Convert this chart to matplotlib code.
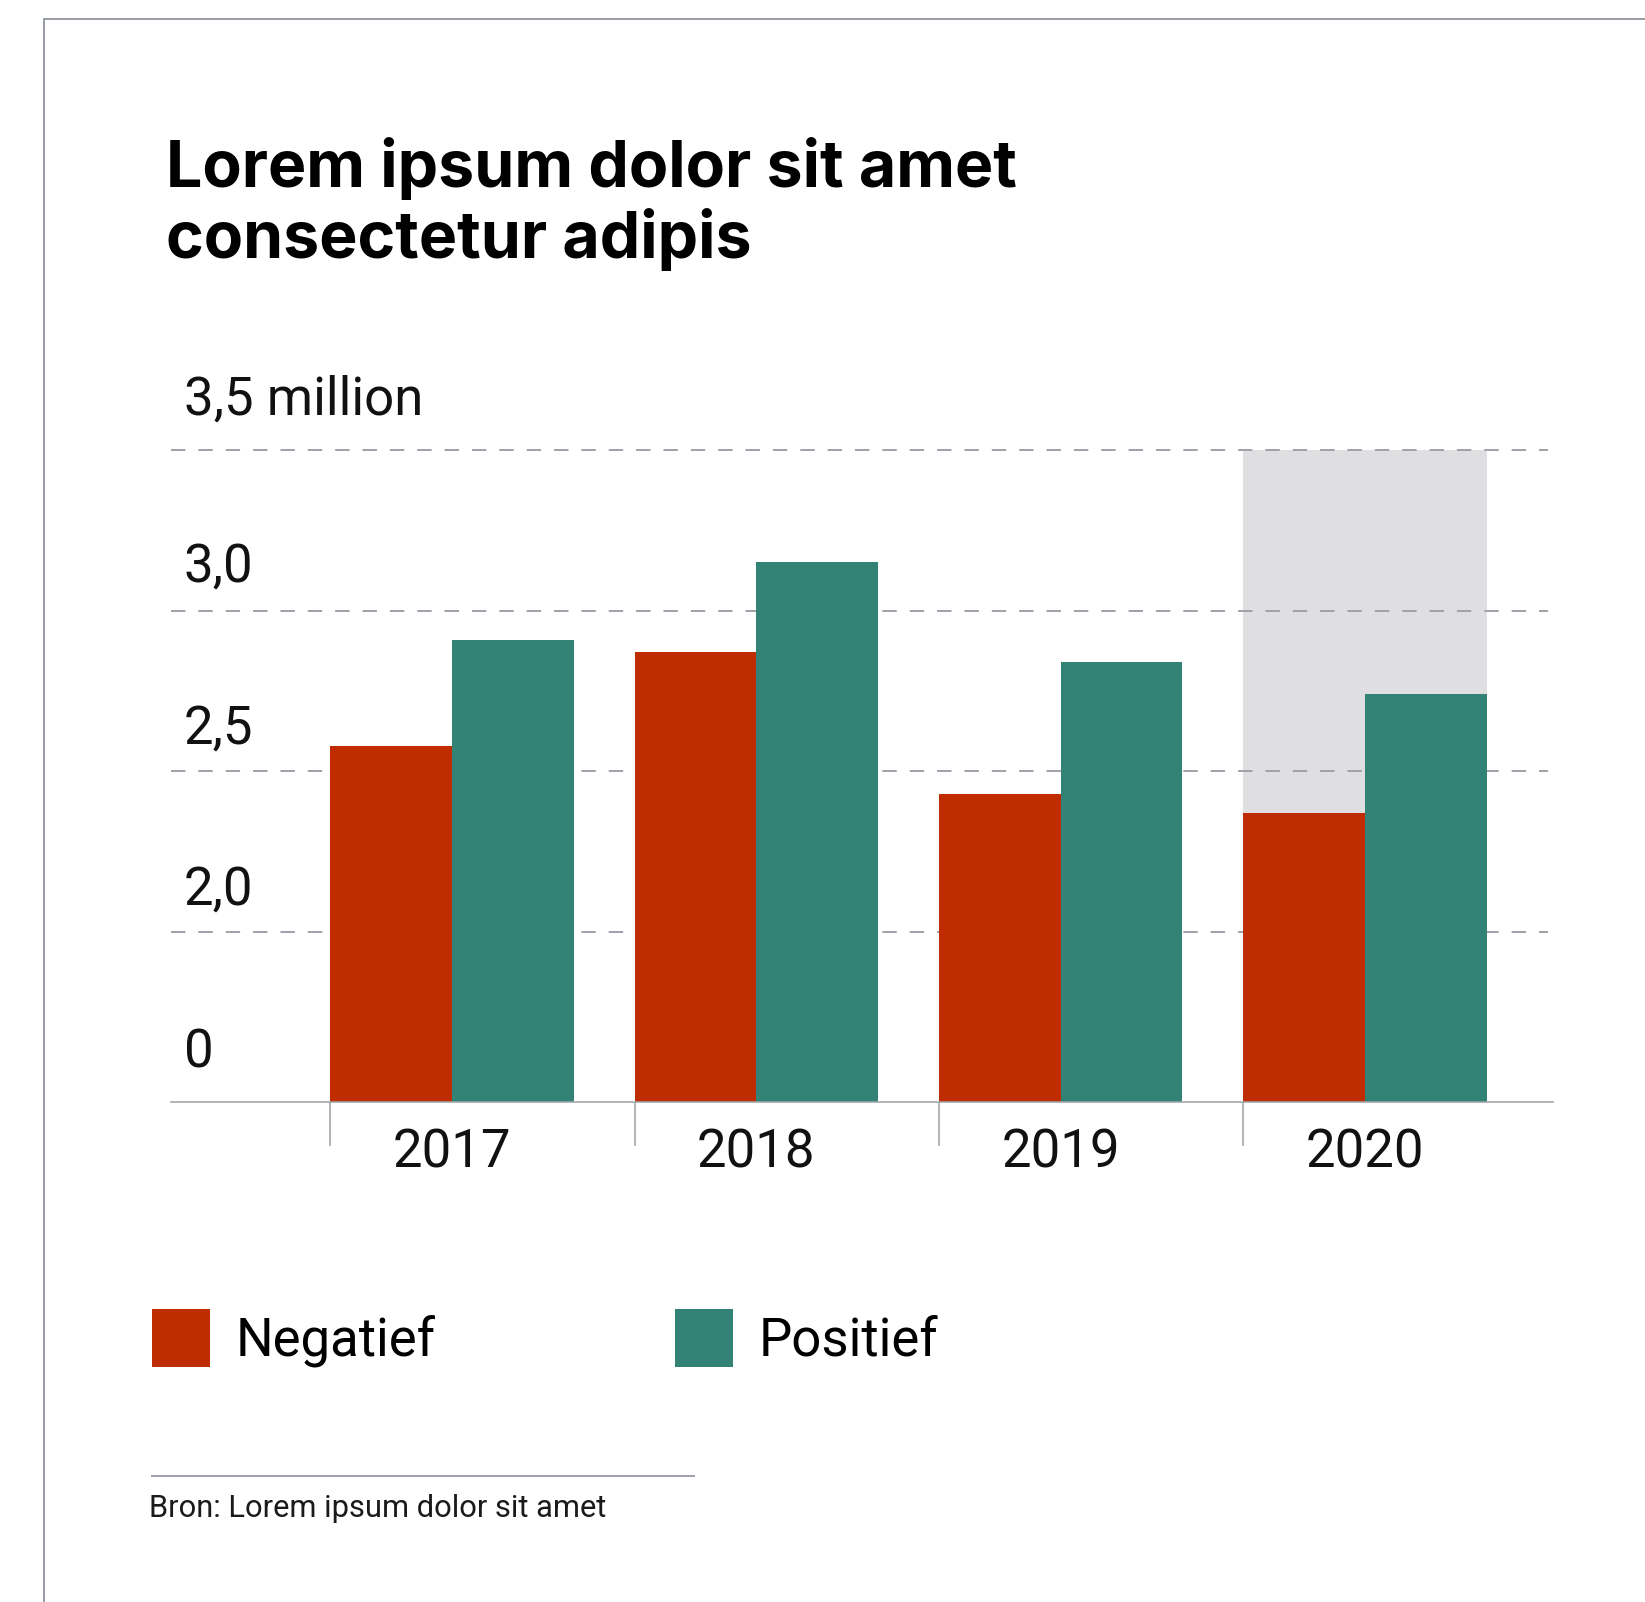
import numpy as np
import matplotlib
matplotlib.use('Agg')
import matplotlib.pyplot as plt
from matplotlib.transforms import blended_transform_factory, offset_copy
from matplotlib.lines import Line2D
from matplotlib.patches import Patch

# ---------------- data ----------------
years = ['2017', '2018', '2019', '2020']
negatief = [2.58, 2.87, 2.43, 2.37]
positief = [2.91, 3.15, 2.84, 2.74]
series_names = ['Negatief', 'Positief']
y_ticks = [0, 2.0, 2.5, 3.0, 3.5]
y_tick_labels = ['0', '2,0', '2,5', '3,0', '3,5 million']
highlight_year = '2020'
title_lines = ['Lorem ipsum dolor sit amet', 'consectetur adipis']
source = 'Bron: Lorem ipsum dolor sit amet'

# ---------------- style ----------------
RED = '#BF2C00'
TEAL = '#338276'
HILITE = '#DFDFE1'
LINE_GREY = '#9FA3AA'
FRAME_GREY = '#9A9EA6'
LABEL_FONT = 'Roboto'
TITLE_FONT = 'Inter'
LABEL_SIZE = 38

W, H = 1645, 1602
DPI = 100
fig = plt.figure(figsize=(W / DPI, H / DPI), dpi=DPI)
fig.patch.set_facecolor('white')


def fx(px):
    return px / W


def fy(py):
    return 1 - py / H


def pt(px):
    return px * 72 / DPI


ax = fig.add_axes([fx(171), fy(1102), fx(1553) - fx(171), fy(450) - fy(1102)])
ax.set_facecolor('none')

# broken y axis: 0..2 compressed
BREAK = 2.0
K = 0.2645


def fwd(v):
    v = np.asarray(v, float)
    return np.where(v >= BREAK, v, BREAK - (BREAK - v) * K)


def inv(y):
    y = np.asarray(y, float)
    return np.where(y >= BREAK, y, BREAK - (BREAK - y) / K)


ax.set_yscale('function', functions=(fwd, inv))
ax.set_ylim(0, 3.5)
ax.set_xlim(-0.9234, 3.618)

x = np.arange(len(years))
w = 0.4

# highlight column
hi = years.index(highlight_year)
ax.bar(x[hi], y_ticks[-1], width=2 * w, color=HILITE, zorder=1, linewidth=0)

# gridlines
for v in y_ticks[1:]:
    ln, = ax.plot([-0.9234, 3.602], [v, v], color=LINE_GREY, lw=pt(2),
                  zorder=2, clip_on=False, solid_capstyle='butt')
    ln.set_dashes([pt(10), pt(9)])

ax.bar(x - w / 2, negatief, w, color=RED, zorder=3, linewidth=0, label=series_names[0])
ax.bar(x + w / 2, positief, w, color=TEAL, zorder=3, linewidth=0, label=series_names[1])

for s in ['top', 'right', 'left']:
    ax.spines[s].set_visible(False)
ax.spines['bottom'].set_color(LINE_GREY)
ax.spines['bottom'].set_linewidth(pt(1.6))
ax.spines['bottom'].set_zorder(4)

ax.set_yticks([])
ax.set_xticks(x - w)
ax.set_xticklabels([])
ax.tick_params(axis='x', which='major', length=pt(44), width=pt(1.6), color=LINE_GREY)
ax.set_xticks(x, minor=True)
ax.set_xticklabels(years, minor=True)
ax.tick_params(axis='x', which='minor', length=0, pad=pt(26), labelsize=LABEL_SIZE,
               labelcolor='#111111')
for lbl in ax.get_xticklabels(minor=True):
    lbl.set_fontfamily(LABEL_FONT)

# y labels
trans = blended_transform_factory(fig.transFigure, ax.transData)
for v, lab in zip(y_ticks, y_tick_labels):
    off = {0: 35, 2.0: 27, 2.5: 28, 3.0: 29, 3.5: 35}[v]
    t = offset_copy(trans, fig=fig, y=off, units='dots')
    ax.text(fx(184), v, lab, transform=t, ha='left', va='baseline',
            fontsize=LABEL_SIZE, fontfamily=LABEL_FONT, color='#111111', clip_on=False)

# title: scale font so the first line spans the reference width
renderer = fig.canvas.get_renderer()
t1 = fig.text(fx(166), fy(187), title_lines[0], ha='left', va='baseline',
              fontsize=43, fontweight='bold', fontfamily=TITLE_FONT, color='black')
w1 = t1.get_window_extent(renderer).width
fs = 43 * 852 / w1
t1.set_fontsize(fs)
fig.text(fx(166), fy(258), title_lines[1], ha='left', va='baseline',
         fontsize=fs, fontweight='bold', fontfamily=TITLE_FONT, color='black')

# legend
handles = [Patch(facecolor=RED, edgecolor='none'), Patch(facecolor=TEAL, edgecolor='none')]
fsp = LABEL_SIZE * DPI / 72
hh = (58 / fsp - 0.245) / 0.65
leg = fig.legend(handles, series_names, loc='upper left',
                 bbox_to_anchor=(fx(152), fy(1309)), ncol=2, frameon=False,
                 prop={'family': LABEL_FONT, 'size': LABEL_SIZE},
                 handlelength=58 / fsp, handleheight=hh, handletextpad=26 / fsp,
                 columnspacing=239 / fsp, borderpad=0, borderaxespad=0)

# source line + text
fig.add_artist(Line2D([fx(152), fx(694)], [fy(1476), fy(1476)], color=LINE_GREY, lw=pt(2)))
fig.text(fx(149), fy(1517), source, ha='left', va='baseline', fontsize=22.2,
         fontfamily=LABEL_FONT, color='#1A1A1A')

# frame
fig.add_artist(Line2D([fx(44), 1.0], [fy(18.5), fy(18.5)], color=FRAME_GREY, lw=pt(2)))
fig.add_artist(Line2D([fx(44), fx(44)], [0, fy(18.5)], color=FRAME_GREY, lw=pt(2)))

fig.savefig('out.png', dpi=DPI, facecolor='white')
